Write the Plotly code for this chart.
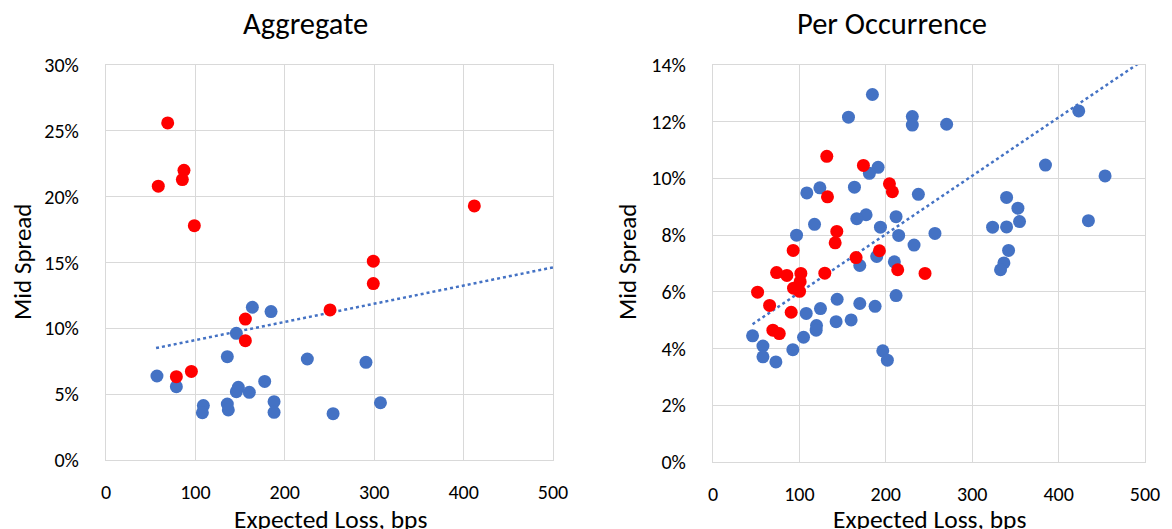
import numpy as np
import plotly.graph_objects as go

# ---- Aggregate panel data (Expected Loss bps, Mid Spread %) ----
agg_blue_x = [57, 78.7, 163.7, 184.6, 145.8, 135.7, 225.2, 290.8, 177.5, 148, 145.8, 160.3,
              188, 307, 108.9, 107.8, 135.7, 136.8, 188, 254]
agg_blue_y = [6.38, 5.57, 11.6, 11.27, 9.62, 7.85, 7.67, 7.42, 5.97, 5.52, 5.19, 5.14,
              4.43, 4.35, 4.13, 3.59, 4.25, 3.8, 3.62, 3.52]
agg_red_x = [69, 87.2, 85.4, 58.5, 98.8, 412, 299, 299, 250.6, 155.9, 155.9, 95.5, 78.7]
agg_red_y = [25.6, 22.0, 21.3, 20.8, 17.8, 19.3, 15.1, 13.4, 11.4, 10.7, 9.06, 6.73, 6.33]
# dotted trendline (start, end)
agg_trend_x = [56, 500]
agg_trend_y = [8.5, 14.63]

# ---- Per Occurrence panel data ----
occ_blue_x = [184.5, 156.8, 230.7, 230.7, 270.4, 423.3, 191.1, 181.0, 384.8, 453.8, 108.6, 123.7,
              163.7, 237.7, 339.8, 352.9, 354.8, 434.5, 323.6, 339.8, 211.9, 177.2, 166.4, 117.5,
              193.8, 214.9, 256.9, 96.7, 232.7, 342.1, 336.7, 332.8, 189.5, 169.9, 209.9, 211.9,
              143.7, 124.4, 169.9, 187.6, 107.9, 119.8, 119.4, 142.5, 159.9, 104.8, 45.8, 57.8,
              57.8, 92.4, 72.8, 196.5, 201.8]
occ_blue_y = [12.96, 12.16, 12.18, 11.88, 11.91, 12.38, 10.39, 10.18, 10.47, 10.09, 9.49, 9.67,
              9.69, 9.44, 9.33, 8.95, 8.48, 8.51, 8.28, 8.29, 8.65, 8.72, 8.58, 8.38,
              8.28, 7.99, 8.06, 8.0, 7.65, 7.46, 7.02, 6.78, 7.25, 6.93, 7.06, 5.87,
              5.74, 5.41, 5.59, 5.49, 5.24, 4.81, 4.65, 4.95, 5.01, 4.4, 4.45, 4.09,
              3.71, 3.96, 3.53, 3.92, 3.59]
occ_red_x = [131.7, 174.1, 204.2, 207.6, 132.5, 143.3, 141.4, 92.8, 192.6, 165.6, 213.8, 245.4,
             73.6, 85.5, 101.7, 129.4, 100.9, 93.2, 100.2, 51.6, 65.5, 90.5, 69.3, 76.7]
occ_red_y = [10.78, 10.46, 9.81, 9.53, 9.35, 8.13, 7.73, 7.46, 7.45, 7.21, 6.78, 6.65,
             6.68, 6.58, 6.65, 6.66, 6.36, 6.13, 6.02, 5.99, 5.52, 5.28, 4.65, 4.53]
occ_trend_x = [45.8, 500]
occ_trend_y = [4.86, 14.21]

x_ticks = [0, 100, 200, 300, 400, 500]

BLUE = "#4472C4"
RED = "#FF0000"
GRID = "#D9D9D9"
FONT = "Carlito, Calibri, Lato, sans-serif"
W, H = 1172, 529

fig = go.Figure()


def add_panel(bx, by, rx, ry, tx, ty, xa, ya):
    fig.add_trace(go.Scatter(x=tx, y=np.array(ty) / 100, mode="lines", xaxis=xa, yaxis=ya,
                             line=dict(color=BLUE, width=2.5, dash="dot"), showlegend=False,
                             hoverinfo="skip"))
    fig.add_trace(go.Scatter(x=bx, y=np.array(by) / 100, mode="markers", xaxis=xa, yaxis=ya,
                             marker=dict(color=BLUE, size=13), showlegend=False,
                             cliponaxis=False))
    fig.add_trace(go.Scatter(x=rx, y=np.array(ry) / 100, mode="markers", xaxis=xa, yaxis=ya,
                             marker=dict(color=RED, size=13), showlegend=False,
                             cliponaxis=False))


add_panel(agg_blue_x, agg_blue_y, agg_red_x, agg_red_y, agg_trend_x, agg_trend_y, "x", "y")
add_panel(occ_blue_x, occ_blue_y, occ_red_x, occ_red_y, occ_trend_x, occ_trend_y, "x2", "y2")

ax_common = dict(showgrid=True, gridcolor=GRID, gridwidth=1.3, zeroline=False,
                 showline=True, linecolor=GRID, linewidth=1.3, mirror=True, automargin=False,
                 ticks="", tickfont=dict(family=FONT, size=20, color="#000"))

fig.update_layout(
    width=W, height=H, margin=dict(l=0, r=0, t=0, b=0),
    paper_bgcolor="white", plot_bgcolor="white",
    xaxis=dict(domain=[106 / W, 553 / W], range=[0, 500], tickvals=x_ticks,
               anchor="y", ticklabelstandoff=14, **ax_common),
    yaxis=dict(domain=[1 - 460 / H, 1 - 65 / H], range=[0, 0.30], dtick=0.05,
               tickformat=".0%", anchor="x", ticklabelstandoff=22, **ax_common),
    xaxis2=dict(domain=[713 / W, 1145 / W], range=[0, 500], tickvals=x_ticks,
                anchor="y2", ticklabelstandoff=14, **ax_common),
    yaxis2=dict(domain=[1 - 462 / H, 1 - 65 / H], range=[0, 0.14], dtick=0.02,
                tickformat=".0%", anchor="x2", ticklabelstandoff=22, **ax_common),
    font=dict(family=FONT, color="#000"),
)

ann = [
    dict(text="Aggregate", x=305 / W, y=1 - 24 / H, size=30.5, angle=0),
    dict(text="Per Occurrence", x=892 / W, y=1 - 24 / H, size=30.5, angle=0),
    dict(text="Expected Loss, bps", x=330 / W, y=1 - 519 / H, size=25.5, angle=0),
    dict(text="Expected Loss, bps", x=929 / W, y=1 - 519 / H, size=25.5, angle=0),
    dict(text="Mid Spread", x=22 / W, y=1 - 262 / H, size=25, angle=-90),
    dict(text="Mid Spread", x=627 / W, y=1 - 262 / H, size=25, angle=-90),
]
for a in ann:
    fig.add_annotation(text=a["text"], x=a["x"], y=a["y"], xref="paper", yref="paper",
                       showarrow=False, textangle=a["angle"], xanchor="center", yanchor="middle",
                       font=dict(family=FONT, size=a["size"], color="#000"))

fig.write_html("out.html", config={"displayModeBar": False},
               post_script="document.body.style.margin='0';document.body.style.overflow='hidden';")
